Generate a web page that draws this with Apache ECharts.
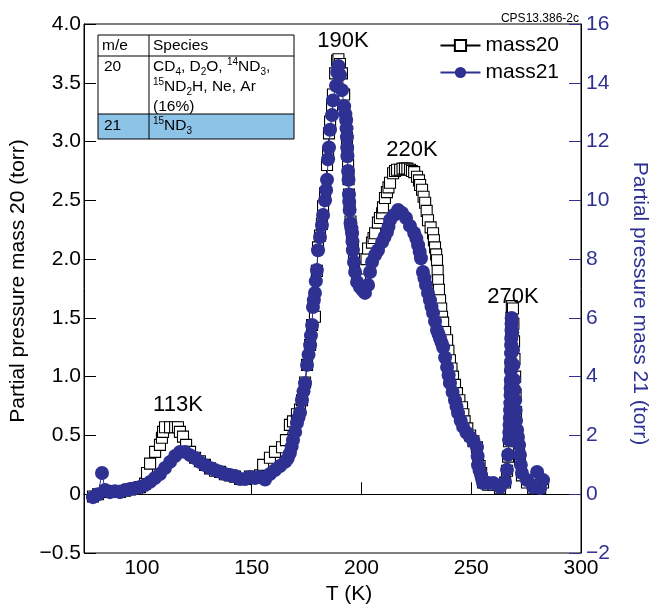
<!DOCTYPE html>
<html>
<head>
<meta charset="utf-8">
<script src="https://cdn.jsdelivr.net/npm/echarts@6/dist/echarts.min.js"></script>
<style>
html,body{margin:0;padding:0;background:#fff;}
#chart{width:652px;height:604px;}
</style>
</head>
<body>
<div id="chart"></div>
<script>
// ---- data ----
const xTicks = [100, 150, 200, 250, 300];
// mass21 : [T (K), partial pressure (torr, right axis)]
const mass21 = [[77.7,-0.1],[80.0,0.0],[81.8,0.72],[83.2,0.14],[85.4,0.07],[87.7,0.1],[90.0,0.07],[92.3,0.14],[94.6,0.18],[96.8,0.2],[99.1,0.25],[101.4,0.31],[103.7,0.42],[105.9,0.55],[108.2,0.69],[110.5,0.89],[112.8,1.1],[115.1,1.3],[117.3,1.44],[119.6,1.44],[121.9,1.33],[124.2,1.23],[126.4,1.1],[128.7,0.99],[131.0,0.89],[133.3,0.82],[135.6,0.76],[137.8,0.69],[140.1,0.65],[142.4,0.62],[144.7,0.52],[147.0,0.52],[149.2,0.59],[151.5,0.55],[153.8,0.59],[156.1,0.5],[158.3,0.69],[160.6,0.82],[162.9,0.96],[165.2,1.1],[166.4,1.22],[167.4,1.4],[168.2,1.62],[168.8,1.84],[169.8,2.12],[170.6,2.42],[171.3,2.6],[172.0,2.77],[172.9,3.2],[173.6,3.5],[174.3,3.78],[175.2,4.4],[175.9,4.75],[176.6,5.07],[177.0,5.4],[177.5,5.76],[177.9,6.37],[178.3,6.6],[178.8,6.85],[179.2,7.25],[179.7,7.63],[180.2,8.3],[181.1,8.75],[182.0,9.16],[182.5,9.5],[183.4,10.0],[183.9,10.35],[184.3,10.7],[184.8,11.4],[185.2,11.8],[185.7,12.4],[186.6,12.9],[187.0,13.4],[188.4,13.9],[189.0,14.36],[189.5,14.57],[190.2,14.26],[191.1,13.75],[192.1,13.2],[192.6,12.95],[193.0,12.73],[193.2,12.45],[193.4,12.15],[193.5,11.8],[193.6,11.5],[193.9,11.0],[194.1,10.7],[194.3,10.2],[194.4,9.95],[194.6,9.67],[195.0,9.23],[195.4,9.05],[195.7,8.88],[195.9,8.6],[196.1,8.3],[196.6,7.9],[197.1,7.56],[198.0,7.22],[199.3,7.05],[200.5,6.95],[201.6,6.85],[203.0,7.12],[203.9,7.56],[204.8,7.9],[206.2,8.14],[207.5,8.3],[209.4,8.58],[210.5,8.75],[211.6,8.92],[212.3,9.1],[213.0,9.33],[214.8,9.5],[216.7,9.67],[218.5,9.57],[220.3,9.4],[222.1,9.13],[224.0,8.89],[225.0,8.7],[225.8,8.47],[226.5,8.25],[227.1,8.03],[228.0,7.56],[228.7,7.35],[229.4,7.12],[230.3,6.85],[231.2,6.6],[231.9,6.38],[232.6,6.17],[233.5,5.88],[234.4,5.59],[235.1,5.45],[235.8,5.3],[236.5,5.15],[237.2,5.0],[238.1,4.65],[239.0,4.33],[239.7,4.05],[240.3,3.78],[241.5,3.48],[242.6,3.2],[243.3,2.98],[244.0,2.76],[245.2,2.5],[246.3,2.29],[247.8,2.1],[249.5,1.95],[251.0,1.8],[252.6,1.6],[252.9,1.3],[253.1,0.99],[253.8,0.8],[254.5,0.65],[255.0,0.5],[255.4,0.38],[257.7,0.38],[260.0,0.38],[263.1,0.24],[265.4,0.42],[266.3,0.83],[266.8,1.34],[267.2,1.85],[267.35,2.1],[267.5,2.35],[267.6,2.6],[267.7,2.86],[267.8,3.1],[267.9,3.38],[267.95,3.6],[268.0,3.89],[268.05,4.2],[268.1,4.5],[268.15,4.8],[268.2,5.07],[268.25,5.3],[268.3,5.59],[268.35,5.8],[268.4,6.0],[268.7,5.5],[269.0,4.9],[269.2,4.4],[269.5,3.89],[269.7,3.55],[270.0,3.2],[270.2,2.85],[270.4,2.5],[270.9,2.19],[271.3,1.95],[271.8,1.68],[272.2,1.34],[272.6,1.0],[273.1,0.72],[275.4,0.48],[278.2,0.24],[280.0,0.76],[281.4,0.21],[282.7,0.48]];
// mass20 : [T (K), partial pressure (torr, left axis)]
const mass20 = [[77.7,-0.02],[80.0,0.0],[83.2,0.03],[85.4,0.02],[87.7,0.02],[90.0,0.02],[92.3,0.03],[94.6,0.04],[96.8,0.05],[99.1,0.06],[101.4,0.09],[102.3,0.18],[103.7,0.26],[106.0,0.36],[108.2,0.42],[109.1,0.48],[109.6,0.53],[110.5,0.57],[112.8,0.57],[115.1,0.57],[116.4,0.57],[117.3,0.53],[118.7,0.49],[120.1,0.42],[121.9,0.36],[124.2,0.31],[126.4,0.28],[128.7,0.25],[131.0,0.22],[133.3,0.2],[135.6,0.19],[137.8,0.17],[140.1,0.16],[142.4,0.15],[144.7,0.13],[147.0,0.13],[149.2,0.15],[151.5,0.14],[153.8,0.16],[155.2,0.25],[158.3,0.31],[160.6,0.36],[163.8,0.4],[165.6,0.46],[167.4,0.59],[168.8,0.62],[170.6,0.68],[172.0,0.72],[172.9,0.8],[174.3,0.95],[175.2,1.1],[176.6,1.27],[177.5,1.44],[178.8,1.51],[179.7,1.9],[180.2,2.1],[181.1,2.2],[182.0,2.3],[182.5,2.45],[183.4,2.56],[184.3,2.8],[184.8,2.9],[185.2,3.07],[185.7,3.17],[186.6,3.3],[187.0,3.4],[188.0,3.58],[188.9,3.69],[189.5,3.7],[190.2,3.66],[191.1,3.58],[192.1,3.4],[193.0,3.2],[193.4,3.03],[193.6,2.9],[193.9,2.8],[194.1,2.68],[194.3,2.55],[194.6,2.45],[195.0,2.32],[195.7,2.22],[196.1,2.1],[196.6,2.0],[197.1,1.92],[198.0,1.87],[199.3,1.85],[201.6,1.92],[202.3,2.0],[203.0,2.09],[204.8,2.14],[205.5,2.18],[206.2,2.22],[207.5,2.31],[208.4,2.35],[209.4,2.39],[209.8,2.44],[210.7,2.52],[211.6,2.57],[212.3,2.61],[213.0,2.65],[214.4,2.73],[215.3,2.75],[216.2,2.76],[217.6,2.76],[218.7,2.77],[219.8,2.77],[220.9,2.77],[222.1,2.76],[223.0,2.75],[224.0,2.74],[225.3,2.7],[226.2,2.67],[226.7,2.63],[227.6,2.59],[228.3,2.53],[229.0,2.48],[229.7,2.41],[230.3,2.33],[231.5,2.27],[232.6,2.22],[233.0,2.16],[233.5,2.1],[234.0,2.04],[234.4,1.99],[234.7,1.9],[234.9,1.82],[235.3,1.74],[235.8,1.65],[236.3,1.58],[236.7,1.51],[237.2,1.46],[238.1,1.38],[239.0,1.31],[239.6,1.22],[240.3,1.14],[241.0,1.07],[241.7,1.0],[242.6,0.93],[243.5,0.86],[244.6,0.8],[245.8,0.74],[246.4,0.68],[247.0,0.62],[248.2,0.56],[249.5,0.5],[251.0,0.45],[252.6,0.4],[253.1,0.3],[253.8,0.24],[254.5,0.18],[255.4,0.1],[257.7,0.08],[260.0,0.08],[263.1,0.05],[265.4,0.1],[266.3,0.2],[266.8,0.32],[267.2,0.45],[267.5,0.6],[267.7,0.75],[267.9,0.9],[268.0,1.1],[268.1,1.3],[268.2,1.4],[268.3,1.5],[268.5,1.6],[269.0,1.58],[269.2,1.45],[269.5,1.3],[269.7,1.15],[270.0,1.0],[270.2,0.85],[270.4,0.7],[270.9,0.5],[271.8,0.38],[272.2,0.3],[273.1,0.16],[275.4,0.1],[278.2,0.05],[280.0,0.17],[281.4,0.05],[282.7,0.1]];
const peakLabels = ['113K', '190K', '220K', '270K'];
const peakT = [116.4, 191.6, 223.0, 269.0];
const peakV = [0.76, 3.86, 2.93, 1.68];

// ---- style ----
const FONT = 'Liberation Sans, Arial, Helvetica, sans-serif';
const BLUE = '#2e3192';
const chart = echarts.init(document.getElementById('chart'), null, {renderer: 'canvas'});
const fmtL = v => (v === 0 ? '0' : v.toFixed(1)).replace('-', '\u2212');
const fmtR = v => String(v).replace('-', '\u2212');

chart.setOption({
  animation: false,
  backgroundColor: '#fff',
  grid: {left: 84, right: 71, top: 24, bottom: 51, show: true, borderColor: '#000', borderWidth: 1,
         containLabel: false, outerBoundsMode: 'none'},
  legend: {
    orient: 'vertical', right: 88, top: 30, itemWidth: 40, itemHeight: 14, itemGap: 6,
    textStyle: {fontSize: 21, color: '#000', fontFamily: FONT},
    data: ['mass20', 'mass21']
  },
  xAxis: {
    type: 'value', min: 73.6, max: 300,
    name: 'T (K)', nameLocation: 'middle', nameGap: 27,
    nameTextStyle: {fontSize: 21, color: '#000', fontFamily: FONT, padding: [0, 0, 0, 33]},
    axisLine: {lineStyle: {color: '#000', width: 1}},
    axisTick: {inside: true, length: 12, lineStyle: {color: '#000'}, customValues: xTicks},
    axisLabel: {fontSize: 21, color: '#000', fontFamily: FONT, margin: 5, customValues: xTicks},
    splitLine: {show: false}
  },
  yAxis: [{
    type: 'value', min: -0.5, max: 4, interval: 0.5, position: 'left',
    name: 'Partial pressure mass 20 (torr)', nameLocation: 'middle', nameGap: 51,
    nameTextStyle: {fontSize: 21, color: '#000', fontFamily: FONT, padding: [0, 0, 0, 15]},
    axisLine: {show: true, lineStyle: {color: '#000', width: 1}},
    axisTick: {inside: true, length: 12, lineStyle: {color: '#000'}},
    axisLabel: {fontSize: 21, color: '#000', fontFamily: FONT, margin: 3, formatter: fmtL},
    splitLine: {show: false}
  }, {
    type: 'value', min: -2, max: 16, interval: 2, position: 'right',
    name: 'Partial pressure mass 21 (torr)', nameLocation: 'middle', nameGap: 48, nameRotate: -90,
    nameTextStyle: {fontSize: 21, color: BLUE, fontFamily: FONT, padding: [0, 0, 0, 30]},
    axisLine: {show: true, lineStyle: {color: '#000', width: 1}},
    axisTick: {inside: true, length: 12, lineStyle: {color: BLUE}},
    axisLabel: {fontSize: 21, color: BLUE, fontFamily: FONT, margin: 5, formatter: fmtR},
    splitLine: {show: false}
  }],
  series: [{
    name: 'mass20', type: 'line', yAxisIndex: 0,
    data: mass20,
    symbol: 'rect', symbolSize: 11, showAllSymbol: true,
    itemStyle: {color: '#fff', borderColor: '#000', borderWidth: 1.1},
    lineStyle: {color: '#000', width: 1},
    z: 2
  }, {
    name: 'mass21', type: 'line', yAxisIndex: 1,
    data: mass21,
    symbol: 'circle', symbolSize: 14, showAllSymbol: true,
    itemStyle: {color: BLUE, borderWidth: 0},
    lineStyle: {color: BLUE, width: 1},
    z: 3
  }]
});

// annotations + table
const g = [];
peakLabels.forEach((s, i) => {
  const p = chart.convertToPixel({xAxisIndex: 0, yAxisIndex: 0}, [peakT[i], peakV[i]]);
  g.push({type: 'text', x: p[0], y: p[1], z: 10,
    style: {text: s, fontSize: 22, fill: '#000', fontFamily: FONT, align: 'center', verticalAlign: 'middle'}});
});
g.push({type: 'text', x: 579, y: 19, z: 10,
  style: {text: 'CPS13.386-2c', fontSize: 12, fill: '#000', fontFamily: FONT, align: 'right', verticalAlign: 'middle'}});
// table
const TX = 98, TY = 35, TW = 196, TH = 104, C1 = 149, R1 = 56, R2 = 114;
g.push({type: 'rect', z: 20, shape: {x: TX, y: TY, width: TW, height: TH}, style: {fill: '#fff', stroke: null}});
g.push({type: 'rect', z: 21, shape: {x: TX, y: R2, width: TW, height: TY + TH - R2}, style: {fill: '#8ec3e8', stroke: null}});
g.push({type: 'line', z: 22, shape: {x1: TX, y1: R1, x2: TX + TW, y2: R1}, style: {stroke: '#000', lineWidth: 1}});
g.push({type: 'line', z: 22, shape: {x1: TX, y1: R2, x2: TX + TW, y2: R2}, style: {stroke: '#000', lineWidth: 1}});
g.push({type: 'line', z: 22, shape: {x1: C1, y1: TY, x2: C1, y2: TY + TH}, style: {stroke: '#000', lineWidth: 1}});
g.push({type: 'rect', z: 22, shape: {x: TX, y: TY, width: TW, height: TH}, style: {fill: null, stroke: '#000', lineWidth: 1}});
const rich = {
  sub: {fontSize: 10, lineHeight: 12, verticalAlign: 'bottom', fontFamily: FONT, fill: '#000'},
  sup: {fontSize: 10, lineHeight: 13, verticalAlign: 'top', fontFamily: FONT, fill: '#000'}
};
const cellTxt = (x, y, text, vAlign) => ({type: 'text', z: 23, x: x, y: y,
  style: {text: text, rich: rich, fontSize: 15.5, lineHeight: 20, fill: '#000', fontFamily: FONT, align: 'left', verticalAlign: vAlign || 'middle'}});
g.push(cellTxt(102, 46, 'm/e'));
g.push(cellTxt(153, 46, 'Species'));
g.push(cellTxt(104, 67, '20'));
g.push(cellTxt(153, 57, 'CD{sub|4}, D{sub|2}O, {sup|14}ND{sub|3},\n{sup|15}ND{sub|2}H, Ne, Ar\n(16%)', 'top'));
g.push(cellTxt(104, 126, '21'));
g.push(cellTxt(153, 116, '{sup|15}ND{sub|3}', 'top'));
chart.setOption({graphic: g});
</script>
</body>
</html>
